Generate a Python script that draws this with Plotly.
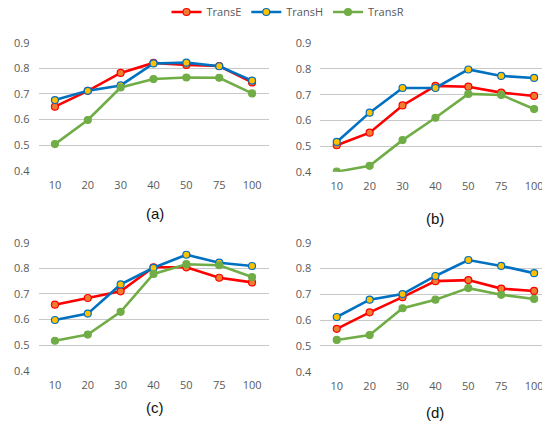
import plotly.graph_objects as go

W, H = 542, 423
TOP = 30  # top margin in px (legend lives here)
PH = H - TOP

categories = ["10", "20", "30", "40", "50", "75", "100"]
series_names = ["TransE", "TransH", "TransR"]

panel_a = {
    "TransE": [0.650, 0.712, 0.782, 0.821, 0.813, 0.809, 0.745],
    "TransH": [0.676, 0.712, 0.733, 0.819, 0.822, 0.808, 0.752],
    "TransR": [0.504, 0.598, 0.725, 0.758, 0.764, 0.763, 0.702],
}
panel_b = {
    "TransE": [0.503, 0.552, 0.658, 0.734, 0.731, 0.708, 0.695],
    "TransH": [0.516, 0.630, 0.726, 0.726, 0.798, 0.773, 0.765],
    "TransR": [0.400, 0.423, 0.523, 0.610, 0.703, 0.699, 0.644],
}
panel_c = {
    "TransE": [0.658, 0.684, 0.710, 0.804, 0.804, 0.763, 0.745],
    "TransH": [0.598, 0.623, 0.737, 0.802, 0.853, 0.822, 0.809],
    "TransR": [0.517, 0.541, 0.630, 0.778, 0.816, 0.812, 0.766],
}
panel_d = {
    "TransE": [0.566, 0.630, 0.689, 0.751, 0.755, 0.722, 0.713],
    "TransH": [0.612, 0.679, 0.701, 0.771, 0.833, 0.810, 0.782],
    "TransR": [0.523, 0.542, 0.646, 0.679, 0.724, 0.698, 0.682],
}
panel_labels = ["(a)", "(b)", "(c)", "(d)"]
y_ticks = [0.4, 0.5, 0.6, 0.7, 0.8, 0.9]

line_colors = {"TransE": "#FF0000", "TransH": "#0070C0", "TransR": "#70AD47"}
marker_fill = {"TransE": "#ED7D31", "TransH": "#FFC000", "TransR": "#70AD47"}

# panel pixel boxes: (x0, x1, ytop, ybottom, xmax_range)
boxes = [
    (38.5, 268.5, 42.7, 170.7, 6.5),
    (320.3, 542.0, 43.3, 171.7, 6.24),
    (38.5, 268.5, 242.7, 370.7, 6.5),
    (320.3, 542.0, 242.7, 371.7, 6.24),
]
label_pos = [(155, 213), (435, 218), (155, 407), (435, 412)]


def py(pix):
    """pixel row -> paper y (plot area starts at TOP)"""
    return 1 - (pix - TOP) / PH


fig = go.Figure()
panels = [panel_a, panel_b, panel_c, panel_d]
layout = {}
for i, (panel, box) in enumerate(zip(panels, boxes)):
    n = "" if i == 0 else str(i + 1)
    x0, x1, yt, yb, xmax = box
    for s in series_names:
        fig.add_trace(go.Scatter(
            x=categories, y=panel[s], name=s, mode="lines+markers",
            xaxis="x" + n, yaxis="y" + n,
            legendgroup=s, showlegend=(i == 0),
            line=dict(color=line_colors[s], width=2.6),
            marker=dict(size=7, color=marker_fill[s],
                        line=dict(color=line_colors[s], width=1.2)),
        ))
    layout["xaxis" + n] = dict(
        domain=[x0 / W, x1 / W], anchor="y" + n, type="category",
        range=[-0.5, xmax], showgrid=False, zeroline=False, showline=False,
        ticks="", tickfont=dict(family="Open Sans", size=11, color="#595959"),
        ticklabelstandoff=6, automargin=False,
    )
    layout["yaxis" + n] = dict(
        domain=[py(yb), py(yt)], anchor="x" + n,
        range=[0.4, 0.9], tickvals=y_ticks, tickformat=".1f",
        showgrid=True, gridcolor="#C8C8C8", gridwidth=1.2,
        zeroline=False, showline=False, ticks="",
        tickfont=dict(family="Open Sans", size=11, color="#595959"),
        ticklabelstandoff=8, automargin=False,
    )

annotations = []
for lab, (px, pyy) in zip(panel_labels, label_pos):
    annotations.append(dict(
        text=lab, x=px / W, y=py(pyy), xref="paper", yref="paper",
        xanchor="center", yanchor="middle", showarrow=False,
        font=dict(family="Liberation Sans", size=15, color="#111111"),
    ))

fig.update_layout(
    width=W, height=H,
    margin=dict(l=0, r=0, t=TOP, b=0, autoexpand=False),
    paper_bgcolor="white", plot_bgcolor="white",
    legend=dict(orientation="h", x=288 / W, xanchor="center",
                y=py(12), yanchor="middle",
                font=dict(family="Open Sans", size=11, color="#595959"),
                itemwidth=30, tracegroupgap=0),
    annotations=annotations,
    **layout,
)

fig.write_html(
    "out.html",
    config={"displayModeBar": False},
    post_script="document.body.style.margin='0';document.body.style.overflow='hidden';",
)
